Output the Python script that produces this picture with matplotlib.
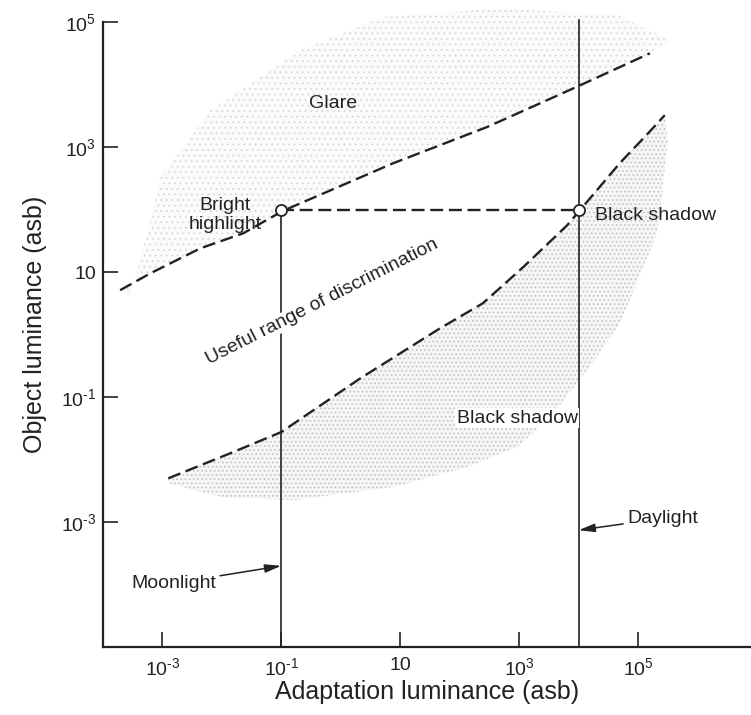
import numpy as np
import matplotlib as mpl
mpl.use('Agg')
import matplotlib.pyplot as plt

# ========== Data (log10 of asb) ==========

# upper dashed curve - glare threshold
glare_lx = [-3.71, -3.20, -2.36, -1.64, -0.97, 0.88, 2.46, 3.47, 4.03, 5.20]
glare_ly = [0.71, 0.98, 1.38, 1.62, 1.98, 2.74, 3.32, 3.75, 3.99, 4.50]

# lower dashed curve - black shadow threshold
shadow_lx = [-2.90, -1.86, -1.00, 0.33, 1.00, 1.67, 2.39, 3.07, 3.81, 4.70, 5.15, 5.45]
shadow_ly = [-2.30, -1.90, -1.56, -0.70, -0.30, 0.10, 0.50, 1.08, 1.75, 2.75, 3.20, 3.51]

# outer edge of the stippled zones
glare_edge_lx = [5.55, 4.70, 2.68, 0.71, -0.68, -2.19, -3.03, -3.37, -3.55]
glare_edge_ly = [4.70, 5.11, 5.22, 5.08, 4.55, 3.59, 2.52, 1.19, 0.62]
shadow_edge_lx = [5.50, 5.40, 5.32, 4.70, 4.20, 3.50, 2.97, 2.13, 0.88, -0.80, -2.00, -2.90]
shadow_edge_ly = [3.10, 2.20, 1.62, 0.18, -0.50, -1.35, -1.80, -2.12, -2.44, -2.65, -2.60, -2.38]

# adaptation levels and the matched points
moonlight = 1e-1
daylight = 1e4
match_level = 1e2

xticks = [1e-3, 1e-1, 1e1, 1e3, 1e5]
xticklabels = ['10$^{\u20103}$', '10$^{\u20101}$', '10', '10$^{3}$', '10$^{5}$']
yticks = [1e-3, 1e-1, 1e1, 1e3, 1e5]
yticklabels = ['10$^{\u20103}$', '10$^{\u20101}$', '10', '10$^{3}$', '10$^{5}$']


def p10(a):
    return 10 ** np.asarray(a, dtype=float)


plt.rcParams['font.family'] = ['Liberation Sans', 'DejaVu Sans']
plt.rcParams['mathtext.default'] = 'regular'
plt.rcParams['hatch.linewidth'] = 0.7

fig = plt.figure(figsize=(7.51, 7.15), dpi=100)
ax = fig.add_axes([0.137, 0.095, 0.863, 0.903])
ax.set_xscale('log')
ax.set_yscale('log')
ax.set_xlim(1e-4, 10 ** 6.9)
ax.set_ylim(1e-5, 10 ** 5.33)

# stippled zones
ax.fill(p10(glare_lx + glare_edge_lx), p10(glare_ly + glare_edge_ly),
        facecolor='#fbfbfb', edgecolor='#dadada', hatch='...', lw=0, zorder=1)
ax.fill(p10(shadow_lx + shadow_edge_lx), p10(shadow_ly + shadow_edge_ly),
        facecolor='#f6f6f6', edgecolor='#c2c2c2', hatch='....', lw=0, zorder=1)

# dashed thresholds
dash = dict(color='#222222', lw=1.7, dashes=(5.5, 2.4), zorder=3)
ax.plot(p10(glare_lx), p10(glare_ly), **dash)
ax.plot(p10(shadow_lx), p10(shadow_ly), **dash)
ax.plot([moonlight, daylight], [match_level, match_level], **dash)

# adaptation lines
ax.plot([moonlight, moonlight], [1e-5, match_level], color='#222222', lw=1.2, zorder=2)
ax.plot([daylight, daylight], [1e-5, 10 ** 5.03], color='#222222', lw=1.2, zorder=2)
ax.plot([moonlight, daylight], [match_level, match_level], ls='none', marker='o',
        ms=8, mfc='white', mec='#222222', mew=1.3, zorder=5)

# labels
fs = 14
tc = '#222222'
ax.text(10 ** -0.13, 10 ** 3.70, 'Glare', fontsize=fs, color=tc, ha='center', va='center')
ax.text(10 ** -1.94, 10 ** 1.91, 'Bright\nhighlight', fontsize=fs, color=tc,
        ha='center', va='center', linespacing=1.2)
ax.text(10 ** 4.28, 10 ** 1.91, 'Black shadow', fontsize=fs, color=tc, ha='left', va='center')
ax.text(10 ** 2.97, 10 ** -1.34, 'Black shadow', fontsize=fs, color=tc, ha='center', va='center',
        bbox=dict(facecolor='white', edgecolor='none', pad=1), zorder=4)
ax.text(10 ** -0.31, 10 ** 0.52, 'Useful range of discrimination', fontsize=fs, color=tc,
        ha='center', va='center', rotation=27, rotation_mode='anchor',
        bbox=dict(facecolor='white', edgecolor='none', pad=0.5), zorder=4)

arrow = dict(arrowstyle='-|>,head_length=0.7,head_width=0.18', color=tc, lw=1.1,
             shrinkA=1, shrinkB=0)
ax.annotate('Moonlight', xy=(moonlight, 10 ** -3.70), xytext=(10 ** -2.1, 10 ** -3.98),
            fontsize=fs, color=tc, ha='right', va='center', arrowprops=arrow)
ax.annotate('Daylight', xy=(daylight, 10 ** -3.13), xytext=(10 ** 4.82, 10 ** -2.94),
            fontsize=fs, color=tc, ha='left', va='center', arrowprops=arrow)

# axes styling
for s in ['top', 'right']:
    ax.spines[s].set_visible(False)
for s in ['left', 'bottom']:
    ax.spines[s].set_linewidth(1.6)
    ax.spines[s].set_color('#222222')
ax.spines['left'].set_bounds(1e-5, 1e5)

ax.set_xticks(xticks)
ax.set_xticklabels(xticklabels)
ax.set_yticks(yticks)
ax.set_yticklabels(yticklabels)
ax.minorticks_off()
ax.tick_params(direction='in', length=11, width=1.2, color='#222222',
               labelsize=14, labelcolor=tc)
ax.tick_params(axis='x', pad=7)
ax.tick_params(axis='y', pad=5)

ax.set_xlabel('Adaptation luminance (asb)', fontsize=18, color=tc, labelpad=1)
ax.set_ylabel('Object luminance (asb)', fontsize=18, color=tc, labelpad=10)

fig.savefig('out.png', dpi=100)
